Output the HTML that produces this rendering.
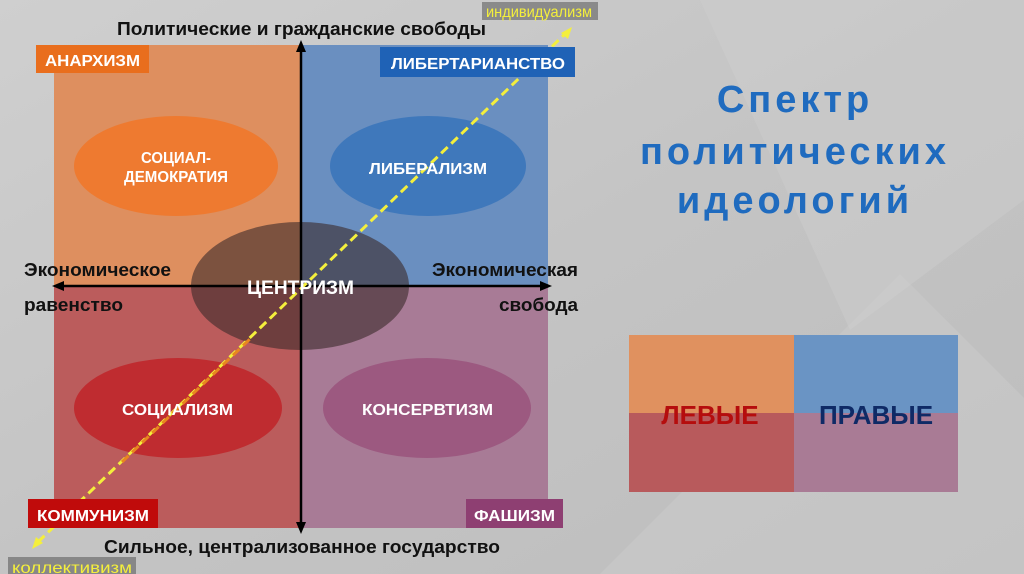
<!DOCTYPE html>
<html><head><meta charset="utf-8"><style>
html,body{margin:0;padding:0;}
body{width:1024px;height:574px;overflow:hidden;background:#c6c6c6;}
svg{display:block;font-family:"Liberation Sans",sans-serif;}
</style></head><body>
<svg width="1024" height="574" viewBox="0 0 1024 574" xmlns="http://www.w3.org/2000/svg">
<defs>
<linearGradient id="bg" x1="0" y1="0" x2="1" y2="1">
<stop offset="0" stop-color="#cfcfcf"/><stop offset="0.5" stop-color="#c4c4c4"/><stop offset="1" stop-color="#bdbdbd"/>
</linearGradient>
</defs>
<rect width="1024" height="574" fill="url(#bg)"/>
<polygon points="600,574 900,274 1024,398 1024,574" fill="#cbcbcb" opacity="0.5"/>
<polygon points="700,0 1024,0 1024,200 850,330" fill="#d0d0d0" opacity="0.4"/>
<!-- quadrants -->
<rect x="54" y="45" width="247" height="240" fill="#de8f5f"/>
<rect x="301" y="45" width="247" height="240" fill="#6a8fc0"/>
<rect x="54" y="285" width="247" height="243" fill="#bb5c5c"/>
<rect x="301" y="285" width="247" height="243" fill="#a87b96"/>
<!-- ellipses -->
<ellipse cx="176" cy="166" rx="102" ry="50" fill="#ee7a30"/>
<ellipse cx="428" cy="166" rx="98" ry="50" fill="#3f78bb"/>
<ellipse cx="178" cy="408" rx="104" ry="50" fill="#bf2c30"/>
<ellipse cx="427" cy="408" rx="104" ry="50" fill="#9c5980"/>
<ellipse cx="300" cy="286" rx="109" ry="64" fill="#3a2a2a" opacity="0.6"/>
<!-- axes -->
<line x1="301" y1="48" x2="301" y2="528" stroke="#000" stroke-width="2.5"/>
<polygon points="301,40 296,52 306,52" fill="#000"/>
<polygon points="301,534 296,522 306,522" fill="#000"/>
<line x1="58" y1="286" x2="546" y2="286" stroke="#000" stroke-width="2.5"/>
<polygon points="52,286 64,281 64,291" fill="#000"/>
<polygon points="552,286 540,281 540,291" fill="#000"/>
<!-- diagonal -->
<line x1="38" y1="542" x2="566" y2="33" stroke="#f4ef3c" stroke-width="3" stroke-dasharray="9,5"/>
<line x1="122" y1="462" x2="252" y2="337" stroke="#e8861f" stroke-width="3" stroke-dasharray="9,5"/>
<polygon points="572,27 561,33 568,39" fill="#f4ef3c"/>
<polygon points="32,549 36,537 43,543" fill="#f4ef3c"/>
<!-- labels boxes -->
<g font-weight="bold" fill="#fff" font-size="16">
<rect x="36" y="45" width="113" height="28" fill="#e96e1d"/>
<text x="45" y="66" textLength="95" lengthAdjust="spacingAndGlyphs">АНАРХИЗМ</text>
<rect x="380" y="47" width="195" height="30" fill="#1f62b6"/>
<text x="391" y="69" textLength="174" lengthAdjust="spacingAndGlyphs">ЛИБЕРТАРИАНСТВО</text>
<rect x="28" y="499" width="130" height="29" fill="#c00b0b"/>
<text x="37" y="521" textLength="112" lengthAdjust="spacingAndGlyphs">КОММУНИЗМ</text>
<rect x="466" y="499" width="97" height="29" fill="#8e3f72"/>
<text x="474" y="521" textLength="81" lengthAdjust="spacingAndGlyphs">ФАШИЗМ</text>
</g>
<rect x="482" y="2" width="116" height="18" fill="#555" opacity="0.55"/>
<text x="486" y="17" font-size="16" fill="#f4ef3c" textLength="106" lengthAdjust="spacingAndGlyphs">индивидуализм</text>
<rect x="8" y="557" width="128" height="17" fill="#555" opacity="0.55"/>
<text x="12" y="573" font-size="16" fill="#f4ef3c" textLength="120" lengthAdjust="spacingAndGlyphs">коллективизм</text>
<!-- ellipse text -->
<g font-size="16" font-weight="bold" fill="#fff">
<text x="141" y="163" textLength="70" lengthAdjust="spacingAndGlyphs">СОЦИАЛ-</text>
<text x="124" y="182" textLength="104" lengthAdjust="spacingAndGlyphs">ДЕМОКРАТИЯ</text>
<text x="369" y="174" textLength="118" lengthAdjust="spacingAndGlyphs">ЛИБЕРАЛИЗМ</text>
<text x="122" y="415" textLength="111" lengthAdjust="spacingAndGlyphs">СОЦИАЛИЗМ</text>
<text x="362" y="415" textLength="131" lengthAdjust="spacingAndGlyphs">КОНСЕРВТИЗМ</text>
<text x="247" y="294" font-size="19" textLength="107" lengthAdjust="spacingAndGlyphs">ЦЕНТРИЗМ</text>
</g>
<!-- axis labels -->
<g font-size="18" fill="#111" font-weight="bold">
<text x="117" y="35" textLength="369" lengthAdjust="spacingAndGlyphs">Политические и гражданские свободы</text>
<text x="24" y="276" textLength="147" lengthAdjust="spacingAndGlyphs">Экономическое</text>
<text x="24" y="311" textLength="99" lengthAdjust="spacingAndGlyphs">равенство</text>
<text x="432" y="276" textLength="146" lengthAdjust="spacingAndGlyphs">Экономическая</text>
<text x="499" y="311" textLength="79" lengthAdjust="spacingAndGlyphs">свобода</text>
<text x="104" y="553" textLength="396" lengthAdjust="spacingAndGlyphs">Сильное, централизованное государство</text>
</g>
<!-- title -->
<g font-size="38" font-weight="bold" fill="#1f6bbf" text-anchor="middle" letter-spacing="4">
<text x="795" y="112">Спектр</text>
<text x="795" y="164">политических</text>
<text x="795" y="213">идеологий</text>
</g>
<!-- legend -->
<rect x="629" y="335" width="165" height="78" fill="#e0915f"/>
<rect x="794" y="335" width="164" height="78" fill="#6a94c4"/>
<rect x="629" y="413" width="165" height="79" fill="#b85a5c"/>
<rect x="794" y="413" width="164" height="79" fill="#a97b95"/>
<text x="710" y="424" font-size="26" font-weight="bold" fill="#b50d0d" text-anchor="middle">ЛЕВЫЕ</text>
<text x="876" y="424" font-size="26" font-weight="bold" fill="#0f2a66" text-anchor="middle">ПРАВЫЕ</text>
</svg>
</body></html>
